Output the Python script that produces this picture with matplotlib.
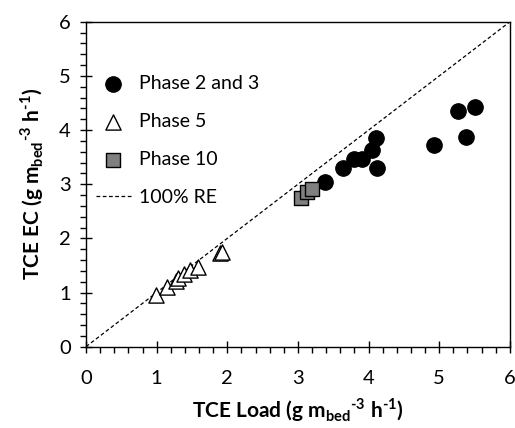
import matplotlib
matplotlib.use('Agg')

import matplotlib.pyplot as plt
import numpy as np
from matplotlib.ticker import MultipleLocator

plt.rcParams['font.family'] = ['Lato', 'DejaVu Sans']
plt.rcParams['mathtext.fontset'] = 'custom'
plt.rcParams['mathtext.rm'] = 'Lato'
plt.rcParams['mathtext.bf'] = 'Lato:bold'

# Phase 2 and 3
p23_load = [3.38, 3.64, 3.79, 3.90, 4.05, 4.10, 4.12, 4.93, 5.26, 5.50, 5.38]
p23_ec = [3.05, 3.30, 3.47, 3.46, 3.64, 3.85, 3.30, 3.72, 4.36, 4.43, 3.88]

# Phase 5
p5_load = [0.99, 1.15, 1.28, 1.30, 1.39, 1.47, 1.59, 1.89, 1.92]
p5_ec = [0.96, 1.11, 1.22, 1.27, 1.35, 1.41, 1.47, 1.73, 1.75]

# Phase 10
p10_load = [3.05, 3.13, 3.20]
p10_ec = [2.75, 2.85, 2.92]

fig = plt.figure(figsize=(5.15, 4.28), dpi=100)
ax = fig.add_axes([0.167, 0.19, 0.823, 0.759])

ax.scatter(p23_load, p23_ec, s=125, marker='o', color='black',
           edgecolors='black', linewidths=0.8, label='Phase 2 and 3', zorder=3)
ax.scatter(p5_load, p5_ec, s=120, marker='^', facecolors='white',
           edgecolors='black', linewidths=1.0, label='Phase 5', zorder=3)
ax.scatter(p10_load, p10_ec, s=95, marker='s', facecolors='#808080',
           edgecolors='black', linewidths=1.0, label='Phase 10', zorder=3)
ax.plot([0, 6], [0, 6], color='black', linestyle=(0, (3, 2)), linewidth=0.9,
        label='100% RE', zorder=2)

ax.set_xlim(0, 6)
ax.set_ylim(0, 6)
ax.xaxis.set_major_locator(MultipleLocator(1))
ax.yaxis.set_major_locator(MultipleLocator(1))
ax.xaxis.set_minor_locator(MultipleLocator(0.2))
ax.yaxis.set_minor_locator(MultipleLocator(0.2))
ax.tick_params(which='major', direction='inout', length=8, width=1,
               labelsize=14.5, pad=13)
ax.tick_params(which='minor', direction='out', length=4, width=1)
ax.tick_params(axis='y', which='major', pad=7)
for s in ax.spines.values():
    s.set_linewidth(1.0)

# hyphen (U+2010) so the exponents show a short dash like the original
unit = '(g m$_{\\mathbf{bed}}$$^{\\mathbf{\u20103}}$ h$^{\\mathbf{\u20101}}$)'
ax.set_xlabel('TCE Load ' + unit, fontsize=15, fontweight='bold', labelpad=6)
ax.set_ylabel('TCE EC ' + unit, fontsize=15, fontweight='bold', labelpad=9)

ax.legend(loc='upper left', frameon=False, fontsize=14, labelspacing=1.08,
          handlelength=1.8, handletextpad=0.4, borderaxespad=0.0,
          bbox_to_anchor=(0.005, 0.86))

fig.savefig('out.png', dpi=100)
